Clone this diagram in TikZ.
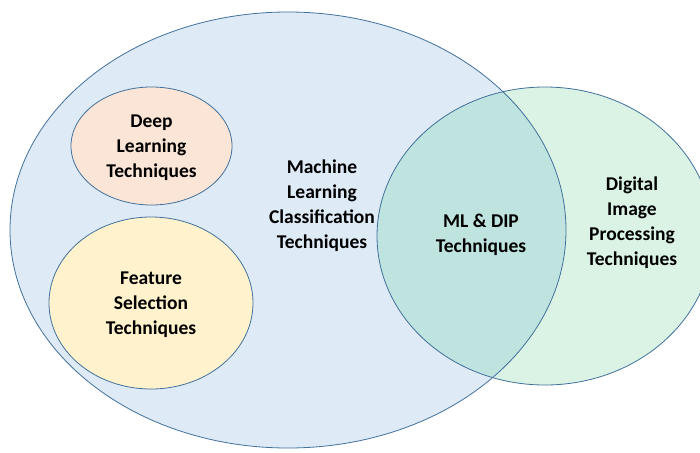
\documentclass[tikz,border=0pt]{standalone}
\usepackage{fontspec}
\setmainfont{Carlito}
\usepackage{tikz}
\usetikzlibrary{positioning}

\definecolor{mlblue}{HTML}{DEEAF6}
\definecolor{dipgreen}{HTML}{DBF3E4}
\definecolor{overlap}{HTML}{BFE3DF}
\definecolor{dlpeach}{HTML}{FBE5D6}
\definecolor{fsyellow}{HTML}{FFF2CC}
\definecolor{edge}{HTML}{41719C}

\tikzset{
    setlabel/.style={align=center, font=\bfseries\fontsize{19.5}{25}\selectfont, text=black},
    setedge/.style={draw=edge, line width=0.8pt}
}

\begin{document}
\begin{tikzpicture}[x=1pt, y=-1pt]
    % area del disegno
    \useasboundingbox (0,0) rectangle (700,452);
    \clip (0,0) rectangle (700,452);

    % Insieme grande: Machine Learning
    \fill[mlblue] (288,230) ellipse (278 and 218);

    % Insieme DIP
    \fill[dipgreen] (545,236) ellipse (168 and 149);

    % Intersezione
    \begin{scope}
        \clip (288,230) ellipse (278 and 218);
        \fill[overlap] (545,236) ellipse (168 and 149);
    \end{scope}

    % Bordi
    \draw[setedge] (288,230) ellipse (278 and 218);
    \draw[setedge] (545,236) ellipse (168 and 149);

    % Sottoinsiemi
    \filldraw[fill=dlpeach, setedge] (151.5,146) ellipse (80.5 and 59);
    \filldraw[fill=fsyellow, setedge] (151,303) ellipse (102 and 86);

    % Etichette
    \node[setlabel] (deep) at (151.5,148) {Deep\\Learning\\Techniques};
    \node[setlabel] (feat) at (151,305) {Feature\\Selection\\Techniques};
    \node[setlabel] (mlc) at (322,206) {Machine\\Learning\\Classification\\Techniques};
    \node[setlabel] (mldip) at (481,235) {ML \& DIP\\Techniques};
    \node[setlabel] (dip) at (632,223) {Digital\\Image\\Processing\\Techniques};
\end{tikzpicture}
\end{document}
